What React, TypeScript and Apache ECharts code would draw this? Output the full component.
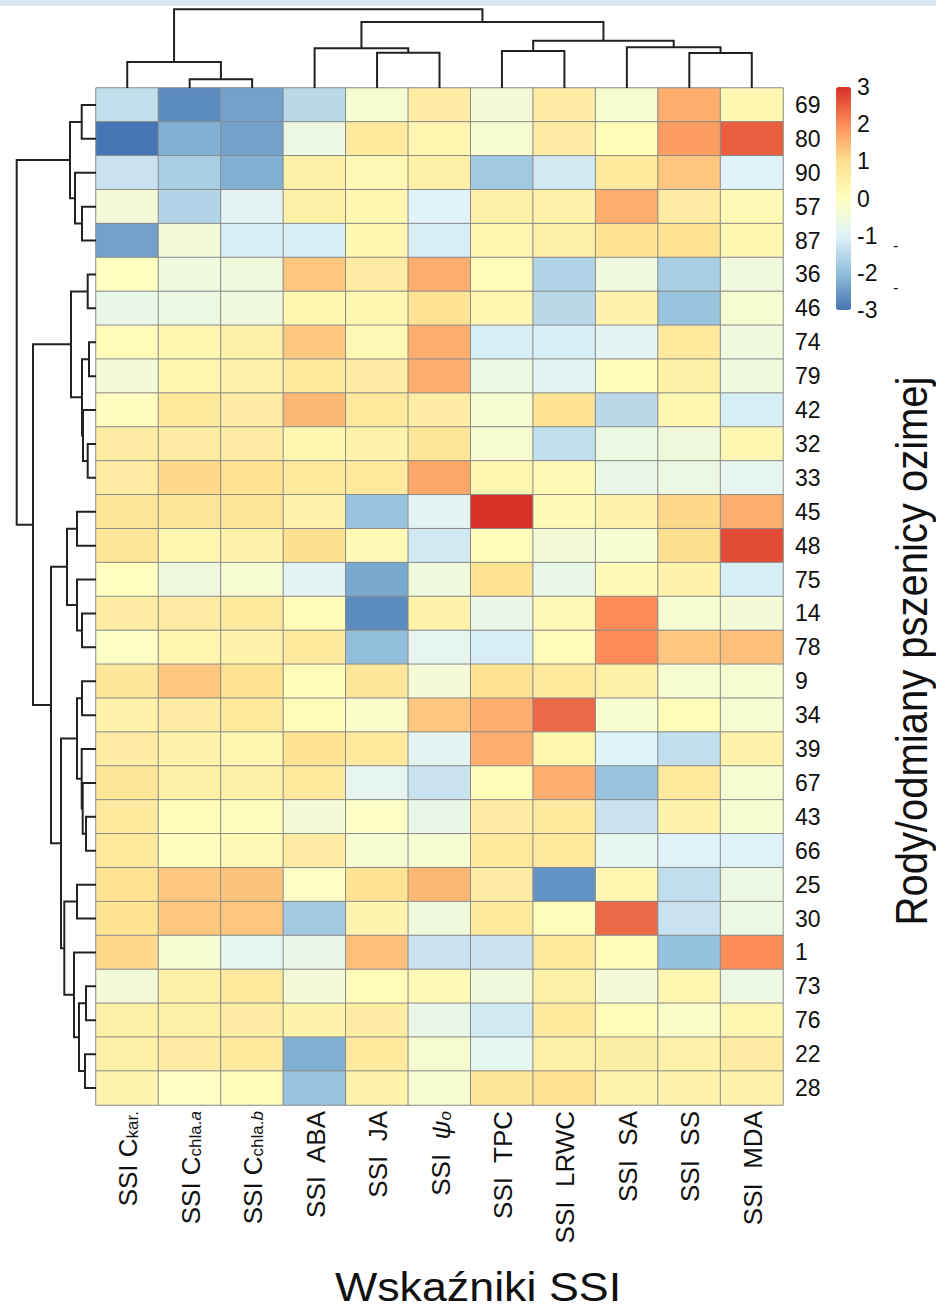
import React, { useEffect, useRef } from "react";
import * as echarts from "echarts";

// Row (genotype) labels, top to bottom
const rowLabels = ["69","80","90","57","87","36","46","74","79","42","32","33","45","48","75","14","78","9","34","39","67","43","66","25","30","1","73","76","22","28"];

// Column labels (rich text), left to right
const columnLabels = [
  "{m|SSI C}{s|kar.}",
  "{m|SSI C}{s|chla.}{si|a}",
  "{m|SSI C}{s|chla.}{si|b}",
  "{m|SSI  ABA}",
  "{m|SSI  JA}",
  "{m|SSI  }{mi|ψ}{si|o}",
  "{m|SSI  TPC}",
  "{m|SSI  LRWC}",
  "{m|SSI  SA}",
  "{m|SSI  SS}",
  "{m|SSI  MDA}",
];

// Standardised SSI values per column (rows in rowLabels order)
const ckar  = [-1.4,-3.0,-1.3,-0.4,-2.4, 0.0,-0.7, 0.1,-0.4, 0.05, 0.6, 0.6, 0.8, 0.8, 0.0, 0.6,-0.1, 0.8, 0.4, 0.6, 0.8, 0.7, 0.7, 0.9, 0.9, 1.1,-0.4, 0.5, 0.5, 0.35];
const chlaA = [-2.7,-2.2,-1.7,-1.6,-0.4,-0.5,-0.6, 0.3, 0.3, 0.7, 0.6, 1.1, 0.8, 0.3,-0.5, 0.6, 0.3, 1.3, 0.6, 0.4, 0.5, 0.1, 0.05, 1.3, 1.3,-0.3, 0.5, 0.5, 0.6,-0.1];
const chlaB = [-2.4,-2.4,-2.2,-0.9,-1.1,-0.5,-0.5, 0.5, 0.4, 0.6, 0.6, 0.9, 0.8, 0.4,-0.3, 0.7, 0.4, 0.9, 0.7, 0.3, 0.5, 0.05, 0.2, 1.35, 1.3,-0.85, 0.7, 0.6, 0.7, 0.1];
const aba   = [-1.5,-0.6, 0.5, 0.5,-1.1, 1.3, 0.3, 1.3, 0.7, 1.5, 0.3, 0.7, 0.4, 1.0,-0.9, 0.1, 0.7, 0.1, 0.1, 0.9, 0.7,-0.4, 0.6,-0.1,-1.8,-0.7,-0.4, 0.4,-2.2,-1.9];
const ja    = [-0.3, 0.7, 0.2, 0.3, 0.3, 0.6, 0.3, 0.2, 0.6, 0.7, 0.4, 0.7,-1.9, 0.2,-2.3,-2.7,-2.0, 0.8,-0.2, 0.7,-0.8,-0.1,-0.3, 0.9, 0.35, 1.4, 0.1, 0.6, 0.7, 0.4];
const psi   = [ 0.6, 0.3, 0.5,-1.0,-1.1, 1.6, 0.9, 1.6, 1.6, 0.6, 0.8, 1.7,-0.9,-1.2,-0.5, 0.4,-0.8,-0.4, 1.3,-0.9,-1.3,-0.7,-0.3, 1.5,-0.5,-1.3, 0.2,-0.7,-0.3,-0.3];
const tpc   = [-0.4,-0.3,-1.8, 0.5, 0.3, 0.1, 0.3,-1.1,-0.6,-0.3,-0.3, 0.3, 3.0, 0.1, 0.9,-0.7,-1.1, 0.9, 1.6, 1.6, 0.1, 0.6, 0.7, 0.6, 0.7,-1.3,-0.5,-1.2,-0.85, 0.8];
const lrwc  = [ 0.6, 0.6,-1.2, 0.4, 0.5,-1.6,-1.5,-1.1,-0.9, 0.9,-1.4, 0.2, 0.2,-0.4,-0.7, 0.2, 0.1, 0.7, 2.4, 0.3, 1.6, 0.7, 0.7,-2.6, 0.05, 0.7, 0.5, 0.7, 0.5, 0.9];
const sa    = [-0.3, 0.1, 0.7, 1.6, 0.9,-0.5, 0.4,-0.9, 0.1,-1.5,-0.6,-0.7, 0.4,-0.3, 0.2, 2.0, 2.0, 0.5,-0.3,-1.0,-1.9,-1.3,-0.8, 0.3, 2.4, 0.1,-0.4, 0.1, 0.55, 0.35];
const ss    = [ 1.6, 1.8, 1.3, 0.6, 0.9,-1.7,-1.9, 0.7, 0.5, 0.3,-0.5,-0.6, 1.1, 1.0, 0.4,-0.3, 1.3,-0.3, 0.1,-1.4, 0.7, 0.4,-1.0,-1.4,-1.3,-1.95, 0.3,-0.2, 0.45, 0.4];
const mda   = [ 0.3, 2.5,-1.0, 0.2, 0.3,-0.5,-0.3,-0.5,-0.5,-1.1, 0.3,-0.8, 1.6, 2.7,-1.1,-0.4, 1.4,-0.3,-0.3, 0.4,-0.3,-0.3,-1.0,-0.6,-0.6, 2.0,-0.6, 0.3, 0.6, 0.45];

const columnsData = [ckar, chlaA, chlaB, aba, ja, psi, tpc, lrwc, sa, ss, mda];

// Dendrograms: [left, right, mergeHeight]; leaves are display indices
const colTree: any = [[0, [1, 2, 8.7], 26], [[3, [4, 5, 35.3], 39.7], [[6, 7, 37], [8, [9, 10, 35], 40.7], 47.3], 66], 78.7];
const rowTree: any = [
  [[0, 1, 14.3], [2, [3, 4, 14], 21], 26],
  [
    [[5, 6, 8.3], [[7, 8, 7], [9, [10, 11, 8.3], 13], 14], 25],
    [
      [[12, 13, 19], [14, [15, 16, 14], 19], 29],
      [
        [[17, 18, 14], [19, [20, [21, 22, 10], 13.3], 14.3], 19],
        [[23, 24, 19], [25, [[26, 27, 10], [28, 29, 11], 17], 22], 31.7],
        35,
      ],
      45,
    ],
    63,
  ],
  79.3,
];

const legendTicks = [3, 2, 1, 0, -1, -2, -3];
const palette = ["#4575B4", "#91BFDB", "#E0F3F8", "#FFFFBF", "#FEE090", "#FC8D59", "#D73027"];

function dendroSegments(tree: any, horizontalLeaves: boolean) {
  const out: any[] = [];
  const walk = (n: any): [number, number] => {
    if (typeof n === "number") return [n, 0];
    const [pl, hl] = walk(n[0]);
    const [pr, hr] = walk(n[1]);
    const h = n[2];
    const pts = [[pl, hl], [pl, h], [pr, h], [pr, hr]];
    out.push({ coords: horizontalLeaves ? pts : pts.map(([p, v]) => [v, p]) });
    return [(pl + pr) / 2, h];
  };
  walk(tree);
  return out;
}

const FONT = "'Liberation Sans', Arial, Helvetica, sans-serif";

export default function App() {
  const ref = useRef<HTMLDivElement>(null);
  useEffect(() => {
    if (!ref.current) return;
    const chart = echarts.init(ref.current, undefined, { renderer: "svg" });
    const data: any[] = [];
    columnsData.forEach((col, ci) => col.forEach((v, ri) => data.push([ci, ri, v])));

    const gridLeft = 96, gridTop = 88, gridW = 687, gridH = 1017;
    const barTop = 87, barH = 223, barLeft = 836;

    const legendTexts = legendTicks.map((t) => ({
      type: "text",
      x: 857,
      y: barTop + ((3 - t) / 6) * barH,
      style: { text: String(t), font: `23px ${FONT}`, fill: "#111", verticalAlign: "middle", align: "left" },
    }));

    chart.setOption({
      animation: false,
      backgroundColor: "#ffffff",
      grid: [
        { left: gridLeft, top: gridTop, width: gridW, height: gridH },
        { left: gridLeft, top: 8, width: gridW, height: 80 },
        { left: 8, top: gridTop, width: 88, height: gridH },
      ],
      xAxis: [
        {
          type: "category",
          gridIndex: 0,
          data: columnLabels,
          position: "bottom",
          axisLine: { show: false },
          axisTick: { show: false },
          splitLine: { show: false },
          axisLabel: {
            rotate: 90,
            margin: 6,
            interval: 0,
            color: "#111",
            fontFamily: FONT,
            formatter: (v: string) => v,
            rich: {
              m: { fontSize: 26, lineHeight: 28, fontFamily: FONT, color: "#111", verticalAlign: "bottom" },
              mi: { fontSize: 26, lineHeight: 28, fontFamily: FONT, color: "#111", fontStyle: "italic", verticalAlign: "bottom" },
              s: { fontSize: 17, lineHeight: 10, fontFamily: FONT, color: "#111", verticalAlign: "bottom" },
              si: { fontSize: 17, lineHeight: 10, fontFamily: FONT, color: "#111", fontStyle: "italic", verticalAlign: "bottom" },
            },
          },
        },
        { type: "value", gridIndex: 1, min: -0.5, max: 10.5, show: false },
        { type: "value", gridIndex: 2, min: 0, max: 88, inverse: true, show: false },
      ],
      yAxis: [
        {
          type: "category",
          gridIndex: 0,
          data: rowLabels,
          inverse: true,
          position: "right",
          axisLine: { show: false },
          axisTick: { show: false },
          splitLine: { show: false },
          axisLabel: { margin: 12, fontSize: 23, color: "#111", fontFamily: FONT, interval: 0 },
        },
        { type: "value", gridIndex: 1, min: 0, max: 80, show: false },
        { type: "value", gridIndex: 2, min: -0.5, max: 29.5, inverse: true, show: false },
      ],
      visualMap: {
        type: "continuous",
        min: -3,
        max: 3,
        calculable: false,
        realtime: false,
        seriesIndex: 0,
        orient: "vertical",
        left: barLeft,
        top: barTop,
        itemWidth: 15,
        itemHeight: barH,
        text: undefined,
        showLabel: false,
        inRange: { color: palette },
        padding: 0,
      },
      series: [
        {
          type: "heatmap",
          xAxisIndex: 0,
          yAxisIndex: 0,
          data,
          itemStyle: { borderColor: "#8a8a8a", borderWidth: 1 },
          silent: true,
        },
        {
          type: "lines",
          coordinateSystem: "cartesian2d",
          xAxisIndex: 1,
          yAxisIndex: 1,
          polyline: true,
          silent: true,
          lineStyle: { color: "#222", width: 2, opacity: 1 },
          data: dendroSegments(colTree, true),
        },
        {
          type: "lines",
          coordinateSystem: "cartesian2d",
          xAxisIndex: 2,
          yAxisIndex: 2,
          polyline: true,
          silent: true,
          lineStyle: { color: "#222", width: 2, opacity: 1 },
          data: dendroSegments(rowTree, false),
        },
      ],
      graphic: [
        { type: "rect", left: 0, top: 0, shape: { width: 936, height: 6 }, style: { fill: "#dce6f2" }, silent: true },
        ...legendTexts,
        { type: "text", x: 893, y: 245, style: { text: "-", font: `16px ${FONT}`, fill: "#111", verticalAlign: "middle" } },
        { type: "text", x: 893, y: 287, style: { text: "-", font: `16px ${FONT}`, fill: "#111", verticalAlign: "middle" } },
        {
          type: "text",
          x: 478,
          y: 1287,
          scaleX: 1.12,
          style: { text: "Wskaźniki SSI", font: `40px ${FONT}`, fill: "#111", align: "center", verticalAlign: "middle" },
        },
        {
          type: "text",
          x: 912,
          y: 651,
          rotation: Math.PI / 2,
          scaleY: 1.12,
          style: { text: "Rody/odmiany pszenicy ozimej", font: `40px ${FONT}`, fill: "#111", align: "center", verticalAlign: "middle" },
        },
      ],
    });
    return () => chart.dispose();
  }, []);
  return <div ref={ref} style={{ position: "absolute", left: 0, top: 0, width: 936, height: 1312 }} />;
}
